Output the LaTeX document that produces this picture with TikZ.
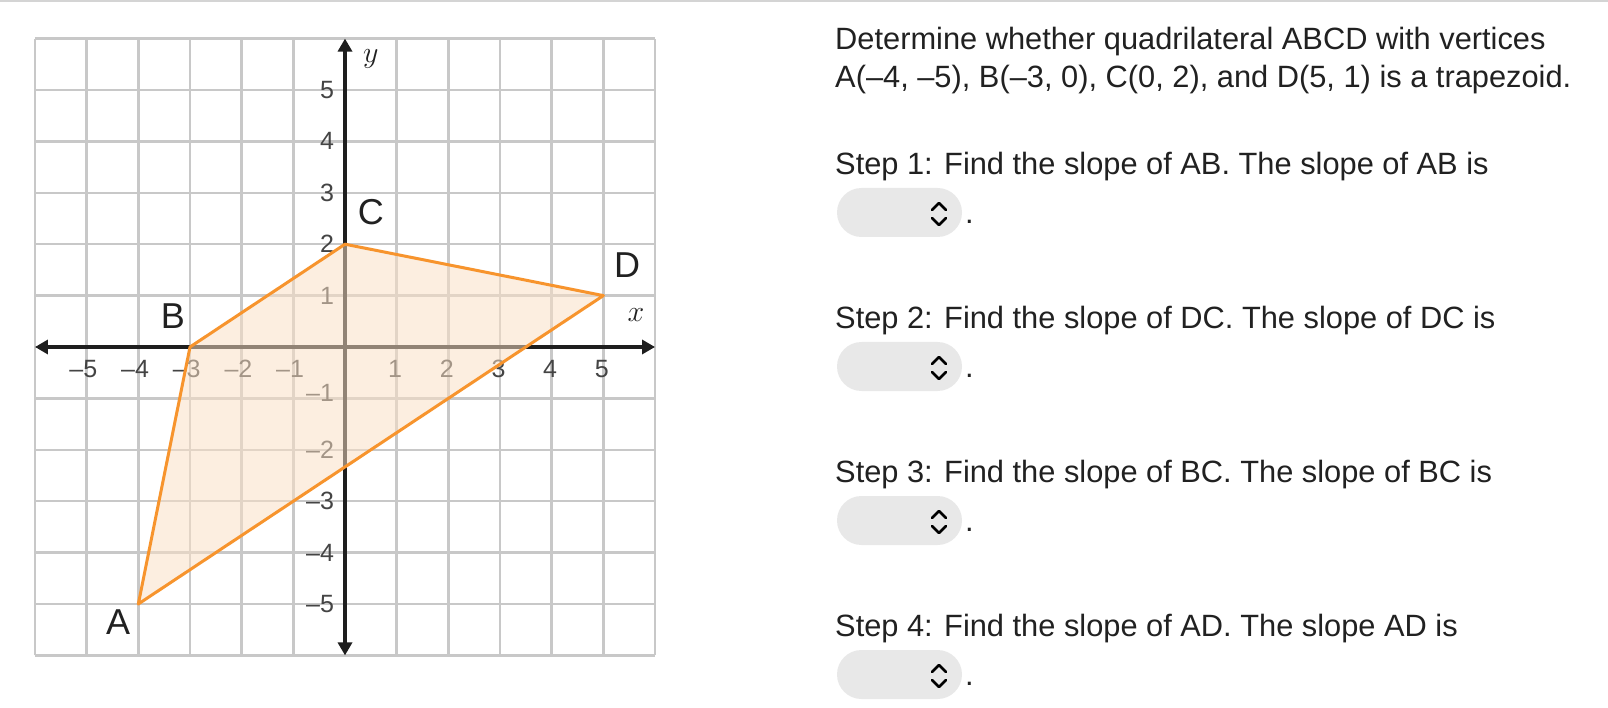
\RequirePackage{fix-cm}
\documentclass[tikz,border=0pt]{standalone}
\usepackage{fontspec}
\setmainfont{Liberation Sans}
\usetikzlibrary{arrows.meta}
\definecolor{gridc}{RGB}{200,200,200}
\definecolor{axisc}{RGB}{30,30,30}
\definecolor{orangec}{RGB}{247,148,45}
\definecolor{fillc}{RGB}{251,224,197}
\definecolor{tickc}{RGB}{68,68,68}
\definecolor{txtc}{RGB}{33,33,33}
\definecolor{boxc}{RGB}{232,232,232}
\definecolor{toplinec}{RGB}{212,212,212}
\newcommand{\mydrop}[2]{%
  \node[dropbox] (box#1) at (899.5,#2) {};
  \draw[chev] ([shift={(32.5,-2.5)}]box#1.center) -- ([shift={(39.5,-9.5)}]box#1.center) -- ([shift={(46.5,-2.5)}]box#1.center);
  \draw[chev] ([shift={(32.5,5.5)}]box#1.center) -- ([shift={(39.5,12.5)}]box#1.center) -- ([shift={(46.5,5.5)}]box#1.center);
  \node[qtext] (dot#1) at ([shift={(65.5,11)}]box#1.center) {.};
}
\begin{document}
\begin{tikzpicture}[x=1pt,y=-1pt,
  gridline/.style={draw=gridc, line width=2.4pt},
  axisline/.style={draw=axisc, line width=4pt, {Triangle[length=13pt,width=14pt]}-{Triangle[length=13pt,width=14pt]}},
  ticklbl/.style={text=tickc, font=\fontsize{25}{25}\selectfont, inner sep=0pt},
  vlabel/.style={text=txtc, font=\fontsize{36}{36}\selectfont, inner sep=0pt},
  axlabel/.style={text=txtc, font=\fontsize{30}{30}\selectfont, inner sep=0pt},
  qtext/.style={text=txtc, font=\fontsize{30.8}{36}\selectfont, inner sep=0pt, anchor=base west},
  dropbox/.style={fill=boxc, rounded corners=24.5pt, minimum width=125pt, minimum height=49pt, inner sep=0pt},
  chev/.style={draw=black, line width=2.6pt, line cap=round, line join=round},
  quad/.style={draw=orangec, line width=3pt, line join=round, fill=fillc, fill opacity=0.52}
]
\useasboundingbox (0,0) rectangle (1608,708);
\fill[white] (0,0) rectangle (1608,708);
\draw[toplinec, line width=2pt] (0,1) -- (1608,1);

\begin{scope}[shift={(345pt,-347pt)}, x=51.67pt, y=51.4pt]
  \foreach \i in {-6,...,6} {
    \draw[gridline] (\i,-6) -- (\i,6);
    \draw[gridline] (-6,\i) -- (6,\i);
  }
  % tick labels
  \foreach \i in {1,...,5} {
    \node[ticklbl, anchor=base] (xp\i) at (\i-0.03,-0.59) {\i};
    \node[ticklbl, anchor=base east] (xn\i) at (-\i+0.21,-0.59) {–\i};
    \node[ticklbl, anchor=east] (yp\i) at (-0.21,\i) {\i};
  }
  \node[ticklbl, anchor=east] (yn1) at (-0.21,-0.9) {–1};
  \foreach \i in {2,...,5} {
    \node[ticklbl, anchor=east] (yn\i) at (-0.21,-\i) {–\i};
  }
  % axes
  \coordinate (xl) at (-6,0);
  \coordinate (xr) at (6,0);
  \coordinate (yb) at (0,-6);
  \coordinate (yt) at (0,6);
  \draw[axisline] (xl) -- (xr);
  \draw[axisline] (yb) -- (yt);
  % quadrilateral
  \coordinate (A) at (-4,-5);
  \coordinate (B) at (-3,0);
  \coordinate (C) at (0,2);
  \coordinate (D) at (5,1);
  \draw[quad] (A) -- (B) -- (C) -- (D) -- cycle;
  \node[vlabel] (lA) at (-4.39,-5.36) {A};
  \node[vlabel] (lB) at (-3.33,0.6) {B};
  \node[vlabel] (lC) at (0.5,2.63) {C};
  \node[vlabel] (lD) at (5.46,1.6) {D};
  \node[axlabel] (lx) at (5.63,0.62) {$x$};
  \node[axlabel] (ly) at (0.5,5.6) {$y$};
\end{scope}

\node[qtext] (t1) at (835,50) {Determine whether quadrilateral ABCD with vertices};
\node[qtext] (t2) at (835,88) {A(–4, –5), B(–3, 0), C(0, 2), and D(5, 1) is a trapezoid.};
\node[qtext] (s1) at (835,174.5) {Step 1: Find the slope of AB. The slope of AB is};
\mydrop{1}{212.5}
\node[qtext] (s2) at (835,328.5) {Step 2: Find the slope of DC. The slope of DC is};
\mydrop{2}{366.5}
\node[qtext] (s3) at (835,482.5) {Step 3: Find the slope of BC. The slope of BC is};
\mydrop{3}{520.5}
\node[qtext] (s4) at (835,636.5) {Step 4: Find the slope of AD. The slope AD is};
\mydrop{4}{674.5}
\end{tikzpicture}
\end{document}
